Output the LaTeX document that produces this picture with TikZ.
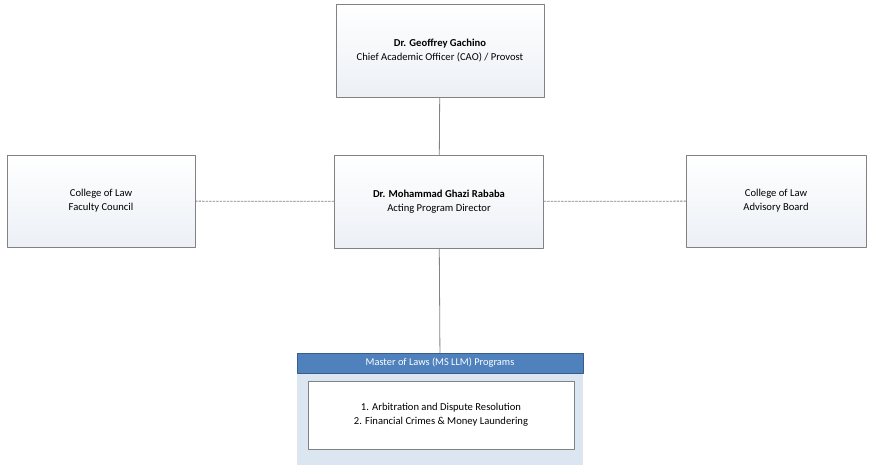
\documentclass[tikz,border=0pt]{standalone}
\usepackage{fontspec}
\setmainfont{Carlito}
\definecolor{boxline}{RGB}{130,130,130}
\definecolor{hdrblue}{RGB}{79,129,189}
\definecolor{hdrline}{RGB}{56,93,138}
\definecolor{panelblue}{RGB}{220,230,241}
\definecolor{boxbot}{RGB}{236,240,246}
\tikzstyle{every node}=[font=\fontsize{10.6}{14}\selectfont]

\begin{document}
\begin{tikzpicture}[x=1pt,y=-1pt,line cap=round,line join=round]
\useasboundingbox (0,0) rectangle (873,465);
\tikzset{orgbox/.style={draw=boxline,line width=0.8pt,top color=white,bottom color=boxbot,align=center,inner sep=0pt},
  link/.style={draw=boxline,line width=0.8pt},
  dashlink/.style={draw=boxline,line width=0.8pt,dash pattern=on 2pt off 1.5pt}}
% people and boards
\node[orgbox,minimum width=208pt,minimum height=93pt] (cao) at (440,50.5) {\textbf{Dr. Geoffrey Gachino}\\Chief Academic Officer (CAO) / Provost};
\node[orgbox,minimum width=209pt,minimum height=93pt] (dir) at (439,201.5) {\textbf{Dr. Mohammad Ghazi Rababa}\\Acting Program Director};
\node[orgbox,minimum width=188pt,minimum height=92pt] (council) at (101,201) {College of Law\\Faculty Council};
\node[orgbox,minimum width=180pt,minimum height=92pt] (board) at (776,201) {College of Law\\Advisory Board};
% programs
\fill[panelblue] (297,373) rectangle (583,465);
\node[draw=hdrline,fill=hdrblue,line width=0.8pt,text=white,font=\fontsize{10.4}{12}\selectfont,minimum width=286pt,minimum height=20pt,inner sep=0pt] (llm) at (440,363) {Master of Laws (MS LLM) Programs};
\node[draw=boxline,fill=white,line width=0.8pt,align=center,minimum width=266pt,minimum height=68pt,inner sep=0pt] (list) at (441,415) {1. Arbitration and Dispute Resolution\\2. Financial Crimes \& Money Laundering};
% connectors
\draw[link] (cao) -- (dir);
\draw[link] (dir) -- (llm);
\draw[dashlink] (council) -- (dir);
\draw[dashlink] (dir) -- (board);
\end{tikzpicture}
\end{document}
